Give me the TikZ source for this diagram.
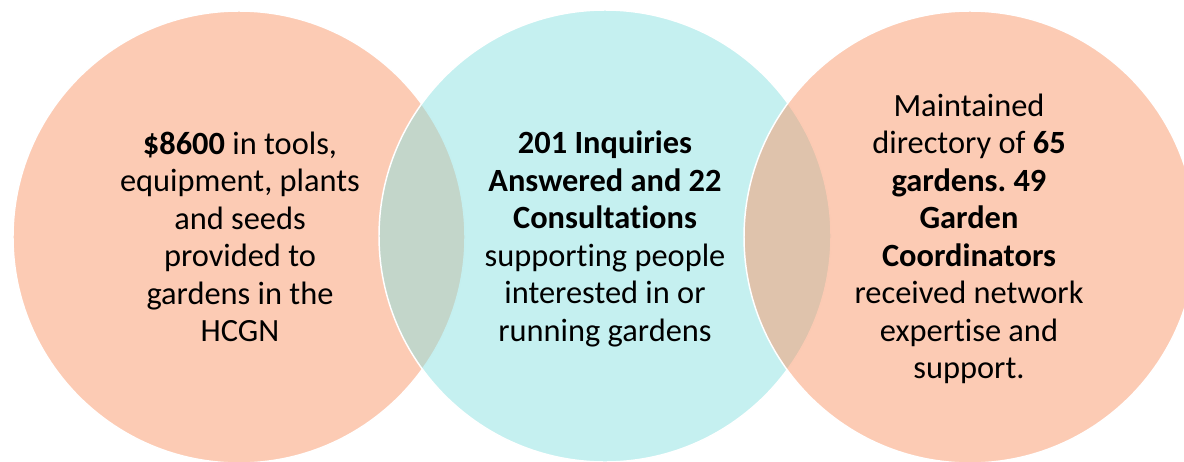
\documentclass[tikz,border=0pt]{standalone}
\usepackage{fontspec}
\setmainfont{Carlito}[Ligatures = NoCommon]
\usetikzlibrary{positioning}
\definecolor{peach}{RGB}{249,151,105}
\definecolor{aqua}{RGB}{139,225,225}
\frenchspacing

\begin{document}
\begin{tikzpicture}[x = 0.75pt, y = -0.75pt,
	bubble/.style = {fill opacity = 0.5, draw = white, draw opacity = 1, line width = 1.1pt},
	blurb/.style = {align = center, inner sep = 0pt, font = \fontsize{24.3}{28.1}\selectfont}]
			%\draw[help lines] (0,0) grid (1184,461);
			\useasboundingbox (0, 0) rectangle (1184, 461);
			\clip (0, 0) rectangle (1184, 461);
			\filldraw[bubble, fill = peach] (239, 237) circle (226);
			\filldraw[bubble, fill = aqua] (605, 236) circle (226);
			\filldraw[bubble, fill = peach] (970, 237) circle (226);
			
			\node[blurb] (tools) at (240, 237) {\textbf{\$8600} in tools,\\ equipment, plants\\ and seeds\\ provided to\\ gardens in the\\ HCGN};
			\node[blurb] (inquiries) at (605, 239) {\textbf{201 Inquiries}\\ \textbf{Answered and 22}\\ \textbf{Consultations}\\ supporting people\\ interested in or\\ running gardens};
			\node[blurb] (directory) at (969, 239) {Maintained\\ directory of \textbf{65}\\ \textbf{gardens. 49}\\ \textbf{Garden}\\ \textbf{Coordinators}\\ received network\\ expertise and\\ support.};
			
		\end{tikzpicture}
\end{document}
